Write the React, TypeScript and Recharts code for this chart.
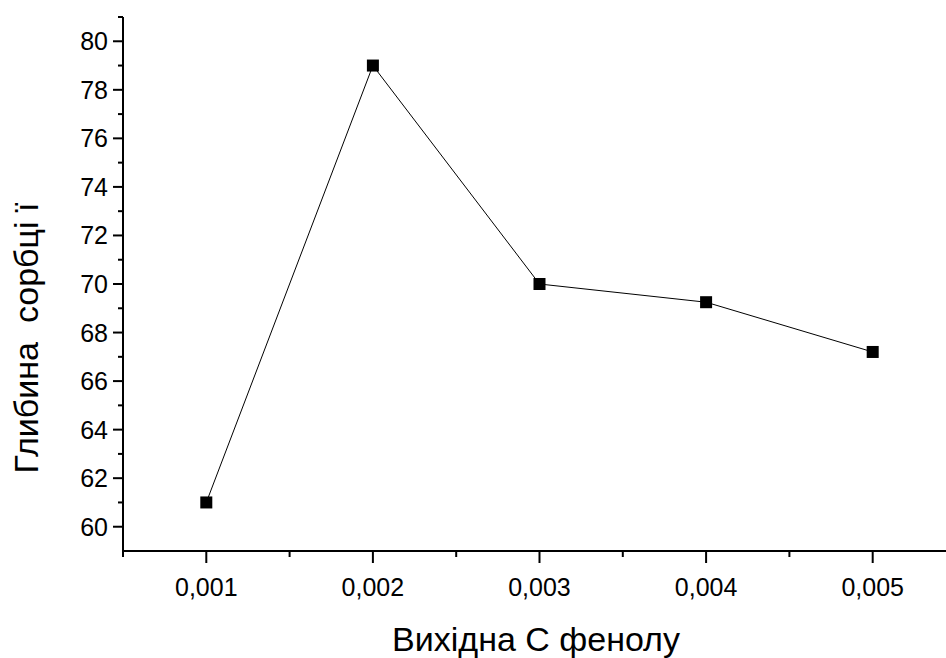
import React from 'react';
import { LineChart, Line, XAxis, YAxis } from 'recharts';

const concentrations = [0.001, 0.002, 0.003, 0.004, 0.005];
const depths = [61, 79, 70, 69.25, 67.2];

const xTicks = [0.0005, 0.001, 0.0015, 0.002, 0.0025, 0.003, 0.0035, 0.004, 0.0045, 0.005];
const xMajor = [0.001, 0.002, 0.003, 0.004, 0.005];
const yTicks = [60, 61, 62, 63, 64, 65, 66, 67, 68, 69, 70, 71, 72, 73, 74, 75, 76, 77, 78, 79, 80, 81];
const yMajor = [60, 62, 64, 66, 68, 70, 72, 74, 76, 78, 80];

const xTitle = 'Вихідна С фенолу';
const yTitle = 'Глибина  сорбці ї';

const data = concentrations.map((c, i) => ({ c, depth: depths[i] }));

const FONT = '"Liberation Sans", Arial, sans-serif';

const isMajor = (list: number[], v: number) => list.some((m) => Math.abs(m - v) < 1e-9);

const XTick = (props: any) => {
  const { x, y, payload } = props;
  const major = isMajor(xMajor, payload.value);
  return (
    <g>
      <line x1={x} x2={x} y1={y} y2={y + (major ? 12 : 6)} stroke="#000" strokeWidth={2} />
      {major && (
        <text x={x} y={y + 45} textAnchor="middle" fontSize={25} fontFamily={FONT} fill="#000">
          {payload.value.toFixed(3).replace('.', ',')}
        </text>
      )}
    </g>
  );
};

const YTick = (props: any) => {
  const { x, y, payload } = props;
  const major = isMajor(yMajor, payload.value);
  return (
    <g>
      <line x1={x} x2={x - (major ? 10 : 5)} y1={y} y2={y} stroke="#000" strokeWidth={2} />
      {major && (
        <text x={x - 15} y={y + 9} textAnchor="end" fontSize={25} fontFamily={FONT} fill="#000">
          {payload.value}
        </text>
      )}
    </g>
  );
};

const Square = (props: any) => {
  const { cx, cy } = props;
  if (cx == null || cy == null) return null;
  return <rect x={cx - 6} y={cy - 6} width={12} height={12} fill="#000" />;
};

export default function App() {
  return (
    <div style={{ position: 'fixed', top: 0, left: 0, width: 946, height: 658, background: '#fff' }}>
      <LineChart width={946} height={658} data={data} margin={{ top: 17, right: 0, bottom: 0, left: 0 }}>
        <XAxis
          dataKey="c"
          type="number"
          domain={[0.0005, 0.00544]}
          allowDataOverflow
          ticks={xTicks}
          interval={0}
          tickSize={0}
          tickMargin={0}
          tickLine={false}
          tick={<XTick />}
          height={107}
          axisLine={{ stroke: '#000', strokeWidth: 2 }}
          label={() => (
            <text x={536} y={651} textAnchor="middle" fontSize={34} fontFamily={FONT} fill="#000">
              {xTitle}
            </text>
          )}
        />
        <YAxis
          type="number"
          domain={[59, 81]}
          allowDataOverflow
          ticks={yTicks}
          interval={0}
          tickSize={0}
          tickMargin={0}
          tickLine={false}
          tick={<YTick />}
          width={123}
          axisLine={{ stroke: '#000', strokeWidth: 2 }}
          label={() => (
            <text
              x={38}
              y={338}
              transform="rotate(-90 38 338)"
              textAnchor="middle"
              fontSize={34}
              fontFamily={FONT}
              fill="#000"
              style={{ whiteSpace: 'pre' }}
            >
              {yTitle}
            </text>
          )}
        />
        <Line
          type="linear"
          dataKey="depth"
          stroke="#000"
          strokeWidth={1}
          dot={<Square />}
          activeDot={false}
          isAnimationActive={false}
        />
      </LineChart>
    </div>
  );
}
